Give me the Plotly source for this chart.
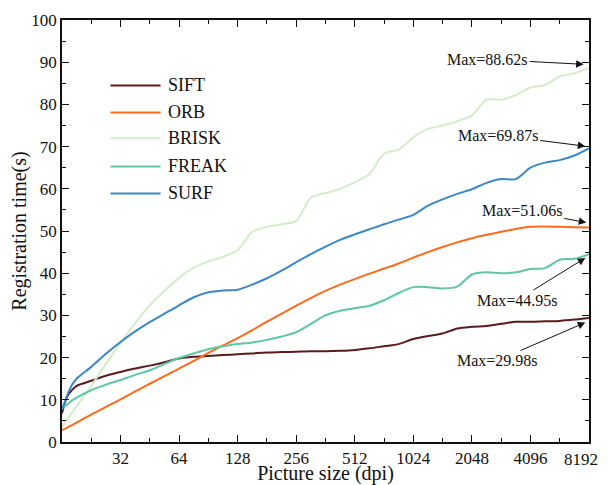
import math
import plotly.graph_objects as go

# Picture size (dpi) sample points
dpi = [16, 17, 18, 19.03, 22.63, 26.91, 32, 38.05, 45.25, 53.82, 64, 76.11, 90.51,
       107.6, 128, 152.2, 181.0, 215.3, 256, 304.4, 362.0, 430.5, 512, 608.9, 724.1,
       861.1, 1024, 1218, 1448, 1722, 2048, 2435, 2896, 3444, 4096, 4871, 5793, 6889, 8192]

sift = [6.8, 10.8, 12.3, 13.3, 14.5, 15.7, 16.6, 17.4, 18.1, 18.9, 19.8, 20.2, 20.4,
        20.6, 20.8, 21.0, 21.2, 21.3, 21.4, 21.5, 21.5, 21.6, 21.8, 22.2, 22.7,
        23.2, 24.4, 25.1, 25.7, 26.9, 27.3, 27.5, 28.0, 28.5, 28.5, 28.6, 28.7, 29.0, 29.4]
orb = [2.8, 3.4, 4.0, 4.6, 6.5, 8.3, 10.1, 12.0, 13.8, 15.6, 17.4, 19.2, 21.1,
       22.9, 24.6, 26.5, 28.5, 30.4, 32.3, 34.1, 35.8, 37.3, 38.6, 39.9, 41.1,
       42.3, 43.7, 45.0, 46.2, 47.3, 48.3, 49.1, 49.8, 50.5, 51.0, 51.06, 51.0, 50.9, 50.8]
brisk = [3.6, 5.3, 6.9, 8.5, 13.3, 18.5, 23.5, 28.2, 32.4, 35.8, 38.9, 41.3, 42.8,
         43.9, 45.5, 49.8, 51.0, 51.6, 52.4, 57.9, 59.0, 60.0, 61.5, 63.5, 68.3,
         69.3, 72.2, 74.2, 75.0, 76.0, 77.4, 81.1, 81.1, 82.2, 84.0, 84.6, 86.6, 87.4, 88.62]
freak = [8.0, 8.9, 9.8, 10.5, 12.3, 13.6, 14.7, 15.9, 17.0, 18.5, 19.9, 21.0, 22.0,
         22.7, 23.2, 23.6, 24.2, 25.0, 26.0, 28.0, 30.0, 31.1, 31.7, 32.3, 33.6,
         35.3, 36.7, 36.7, 36.4, 36.8, 39.7, 40.2, 40.0, 40.2, 41.0, 41.2, 43.2, 43.4, 44.5]
surf = [7.6, 11.0, 13.5, 15.0, 17.8, 20.9, 23.7, 26.2, 28.4, 30.4, 32.4, 34.3, 35.5,
        35.9, 36.1, 37.3, 38.8, 40.6, 42.6, 44.5, 46.3, 47.9, 49.2, 50.4, 51.6,
        52.7, 53.8, 56.0, 57.5, 58.8, 59.9, 61.4, 62.3, 62.3, 65.0, 66.2, 66.8, 67.9, 69.6]

names = ["SIFT", "ORB", "BRISK", "FREAK", "SURF"]
colors = ["#5c1a1c", "#ff6a1c", "#d4ecc8", "#5fc6a3", "#3b88c5"]
series = [sift, orb, brisk, freak, surf]

x_ticks = [32, 64, 128, 256, 512, 1024, 2048, 4096, 8192]
x_minor = [22.63, 45.25, 90.51, 181.0, 362.0, 724.1, 1448, 2896, 5793]

# max annotations: label value, tip (dpi, value), text offset (px)
max_vals = [88.62, 69.87, 51.06, 44.95, 29.98]
tip_x = [7690, 7840, 7935, 7840, 7840]
tip_y = [89.5, 70.1, 52.0, 43.6, 28.3]
off_x = [-96, -87, -64, -68, -88]
off_y = [-5, -11, -12, 42, 38]

FONT = "Liberation Serif"

fig = go.Figure()
for name, col, ys in zip(names, colors, series):
    fig.add_trace(go.Scatter(x=dpi, y=ys, mode="lines", name=name,
                             line=dict(color=col, width=2, shape="spline", smoothing=0.8),
                             showlegend=False))

# manual legend
leg_y = [0.845, 0.781, 0.7195, 0.653, 0.589]
for name, col, ly in zip(names, colors, leg_y):
    fig.add_shape(type="line", xref="paper", yref="paper", x0=0.092, x1=0.187,
                  y0=ly, y1=ly, line=dict(color=col, width=2))
    fig.add_annotation(xref="paper", yref="paper", x=0.198, y=ly, text=name,
                       showarrow=False, xanchor="left", yanchor="middle",
                       font=dict(family=FONT, size=18, color="#111"))

for v, tx, ty, ox, oy in zip(max_vals, tip_x, tip_y, off_x, off_y):
    fig.add_annotation(x=math.log10(tx), y=ty, xref="x", yref="y", text=f"Max={v:.2f}s",
                       showarrow=True, ax=ox, ay=oy, arrowhead=2, arrowsize=1.5,
                       arrowwidth=1, arrowcolor="#111",
                       font=dict(family=FONT, size=16, color="#111"))

# last tick label drawn as text nudged left so it stays fully inside the page
fig.add_annotation(x=math.log10(x_ticks[-1]), y=0, xref="x", yref="paper",
                   text=str(x_ticks[-1]), showarrow=False, xanchor="right",
                   yanchor="top", xshift=11, yshift=-6,
                   font=dict(family=FONT, size=17, color="#111"))

axis_common = dict(showline=True, linecolor="#111", linewidth=1.5, mirror="allticks",
                   ticks="inside", ticklen=7, tickwidth=1.2, tickcolor="#111",
                   showgrid=False, zeroline=False, automargin=False,
                   ticklabeloverflow="allow",
                   tickfont=dict(family=FONT, size=17, color="#111"))

fig.update_xaxes(type="log", range=[1.20412, 3.91339], tickvals=x_ticks,
                 ticktext=[str(t) for t in x_ticks[:-1]] + [""],
                 minor=dict(tickvals=x_minor, ticks="inside", ticklen=4, tickcolor="#111", tickwidth=1.2),
                 title=dict(text="Picture size (dpi)", font=dict(family=FONT, size=20, color="#111"), standoff=2),
                 **axis_common)
fig.update_yaxes(range=[0, 100], dtick=10,
                 minor=dict(dtick=5, ticks="inside", ticklen=4, tickcolor="#111", tickwidth=1.2),
                 title=dict(text="Registration time(s)", font=dict(family=FONT, size=20, color="#111"), standoff=0),
                 **axis_common)

# page body has an 8px margin: figure is sized/offset to land the plot at the reference spot
fig.update_layout(width=600, height=477, margin=dict(l=54, r=19, t=12, b=43),
                  plot_bgcolor="white", paper_bgcolor="white",
                  font=dict(family=FONT))

fig.write_html("out.html")
